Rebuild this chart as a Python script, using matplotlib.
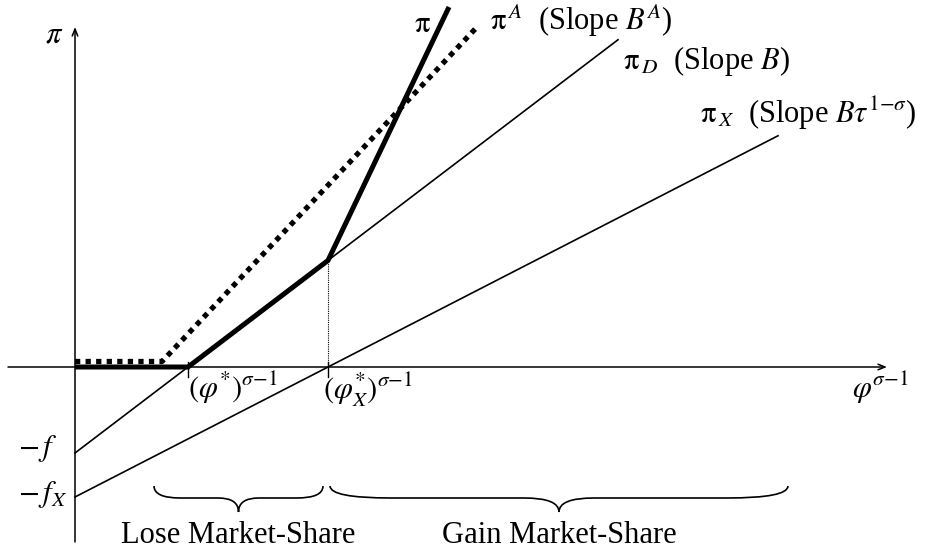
import matplotlib
matplotlib.use('Agg')
import matplotlib.pyplot as plt
from matplotlib.path import Path
from matplotlib.patches import PathPatch

plt.rcParams['font.family'] = ['Liberation Serif', 'DejaVu Serif']
plt.rcParams['mathtext.fontset'] = 'stix'

# Значения для диаграммы (в условных единицах, начало координат в пересечении осей)
phi_star = 1.13        # (phi*)^(sigma-1)
phi_x_star = 2.53      # (phi_X*)^(sigma-1)
f = 0.86               # постоянные издержки
f_x = 1.30             # издержки экспорта
B = f / phi_star       # наклон pi_D
B_x = f_x / phi_x_star # наклон pi_X

# концы прямых
pi_d_end = 5.43
pi_x_end = 7.03

# жирная линия pi (ломаная)
pi_x = [0, phi_star, phi_x_star, 3.74]
pi_y = [0, 0, B * phi_x_star - f, 3.60]

# пунктир pi^A
pia_x = [0, 0.87, 4.03]
pia_y = [0.055, 0.055, 3.41]

# фигурные скобки
braces = [(0.79, 2.48), (2.55, 7.13)]
brace_labels = ['Lose Market-Share', 'Gain Market-Share']

fig = plt.figure(figsize=(9.32, 5.54), dpi=100)
ax = fig.add_axes([0, 0, 1, 1])
ax.set_xlim(-0.75, 8.57)
ax.set_ylim(-1.87, 3.67)
ax.axis('off')

# оси со стрелками
arr = dict(arrowstyle='->,head_length=0.5,head_width=0.2', lw=1.1, color='black',
           shrinkA=0, shrinkB=0)
ax.annotate('', xy=(0, 3.40), xytext=(0, -1.75), arrowprops=arr)
ax.annotate('', xy=(8.12, 0), xytext=(-0.67, 0), arrowprops=arr)

# pi_D и pi_X
ax.plot([0, pi_d_end], [-f, B * pi_d_end - f], color='black', lw=1.2)
ax.plot([0, pi_x_end], [-f_x, B_x * pi_x_end - f_x], color='black', lw=1.2)

# pi^A точками
ax.plot(pia_x, pia_y, color='black', lw=3.8, linestyle=(0, (1, 1)),
        dash_capstyle='butt', solid_joinstyle='miter')
# pi жирная
ax.plot(pi_x, pi_y, color='black', lw=3.6, solid_capstyle='butt', solid_joinstyle='miter')

# пунктирная вертикаль и засечки
ax.plot([phi_x_star, phi_x_star], [0, B * phi_x_star - f], color='black', lw=0.8,
        linestyle=(0, (1, 1)))
for xv in [phi_star, phi_x_star]:
    ax.plot([xv, xv], [0.05, -0.10], color='black', lw=1.0)

# подписи
fs = 22
sm = r'{\sigma{-}1}'
ax.text(-0.21, 3.32, r'$\pi$', fontsize=fs, ha='center', va='center')
ax.text(3.47, 3.42, r'$\mathrm{\pi}$', fontsize=fs, ha='center', va='center')
ax.text(4.15, 3.37, r'$\mathrm{\pi}^{\,A}$  (Slope $B^{A}$)', fontsize=fs, ha='left', va='baseline')
ax.text(5.48, 2.98, r'$\mathrm{\pi}_{\,D}$  (Slope $B$)', fontsize=fs, ha='left', va='baseline')
ax.text(6.25, 2.44, r'$\mathrm{\pi}_{\,X}$  (Slope $B\tau^{1{-}\sigma}$)', fontsize=fs,
        ha='left', va='baseline')

ax.text(phi_star, -0.31, r'$(\varphi^{*})^' + sm + '$', fontsize=fs, ha='left', va='baseline')
ax.text(phi_x_star - 0.05, -0.31, r'$(\varphi^{*}_{X})^' + sm + '$', fontsize=fs,
        ha='left', va='baseline')
ax.text(7.77, -0.31, r'$\varphi^' + sm + '$', fontsize=fs, ha='left', va='baseline')
ax.text(-0.57, -0.89, r'$-\,f$', fontsize=fs, ha='left', va='baseline')
ax.text(-0.57, -1.35, r'$-\,f_{X}$', fontsize=fs, ha='left', va='baseline')


def brace(x0, x1, yt=-1.19, ym=-1.31, yb=-1.45):
    xc = (x0 + x1) / 2
    r = 0.12 * (x1 - x0) + 0.06
    rm = 0.05 * (x1 - x0) + 0.12
    verts = [(x0, yt), (x0, ym), (x0 + r, ym),
             (xc - rm, ym), (xc, ym), (xc, yb),
             (xc, ym), (xc + rm, ym),
             (x1 - r, ym), (x1, ym), (x1, yt)]
    codes = [Path.MOVETO, Path.CURVE3, Path.CURVE3,
             Path.LINETO, Path.CURVE3, Path.CURVE3,
             Path.CURVE3, Path.CURVE3,
             Path.LINETO, Path.CURVE3, Path.CURVE3]
    ax.add_patch(PathPatch(Path(verts, codes), fill=False, lw=1.2, color='black'))
    return xc


for (x0, x1), lab in zip(braces, brace_labels):
    xc = brace(x0, x1)
    ax.text(xc, -1.76, lab, fontsize=fs, ha='center', va='baseline')

plt.savefig('out.png', dpi=100)
